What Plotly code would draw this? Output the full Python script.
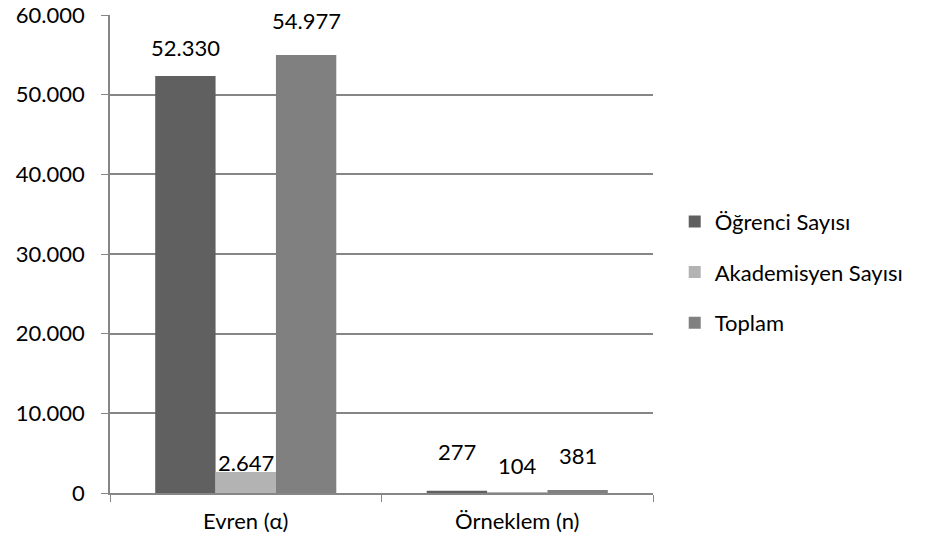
import plotly.graph_objects as go

categories = ["Evren (α)", "Örneklem (n)"]
series_names = ["Öğrenci Sayısı", "Akademisyen Sayısı", "Toplam"]
ogrenci = [52330, 277]
akademisyen = [2647, 104]
toplam = [54977, 381]
series_values = [ogrenci, akademisyen, toplam]
colors = ["#606060", "#b3b3b3", "#808080"]
label_yshift = [[29, 39], [9, 27], [35, 34]]

FONT = "Lato, 'Open Sans', sans-serif"
FS = 22
bargap = 0.333
n = len(series_values)
bw = (1 - bargap) / n

fig = go.Figure()
for i, (name, vals, col) in enumerate(zip(series_names, series_values, colors)):
    fig.add_trace(go.Bar(
        x=categories, y=vals, name=name, marker=dict(color=col, line=dict(width=0)),
        legendgroup=name,
    ))

def fmt(v):
    return f"{v:,}".replace(",", ".")

for i, vals in enumerate(series_values):
    off = (i - (n - 1) / 2) * bw
    for j, v in enumerate(vals):
        fig.add_annotation(x=j + off, y=v, xref="x", yref="y", text=fmt(v),
                           showarrow=False, yanchor="middle", yshift=label_yshift[i][j],
                           font=dict(family=FONT, size=FS, color="#000000"))

fig.update_layout(
    width=935, height=550,
    margin=dict(l=110, r=282, t=15, b=57, autoexpand=False),
    paper_bgcolor="white", plot_bgcolor="white",
    separators=",.",
    barmode="group", bargap=bargap, bargroupgap=0,
    font=dict(family=FONT, size=FS, color="#000000"),
    showlegend=True,
    legend=dict(x=1.04, y=0.462, xanchor="left", yanchor="middle",
                font=dict(family=FONT, size=FS), traceorder="grouped",
                tracegroupgap=19, itemwidth=30),
    xaxis=dict(showline=True, linecolor="#868686", linewidth=1.5, automargin=False,
               ticks="outside", tickson="boundaries", ticklen=7, tickcolor="#868686",
               ticklabelstandoff=8,
               tickfont=dict(family=FONT, size=FS), showgrid=False),
    yaxis=dict(range=[0, 60000], dtick=10000,
               tickformat=",d", automargin=False, ticklabeloverflow="allow",
               showline=True, linecolor="#868686", linewidth=1.5,
               ticks="outside", ticklen=7, tickcolor="#868686", ticklabelstandoff=12,
               showgrid=True, gridcolor="#868686", gridwidth=1.5,
               zeroline=False, tickfont=dict(family=FONT, size=FS)),
)

fig.write_html("out.html", config={"displayModeBar": False},
               post_script="document.body.style.margin='0';")
